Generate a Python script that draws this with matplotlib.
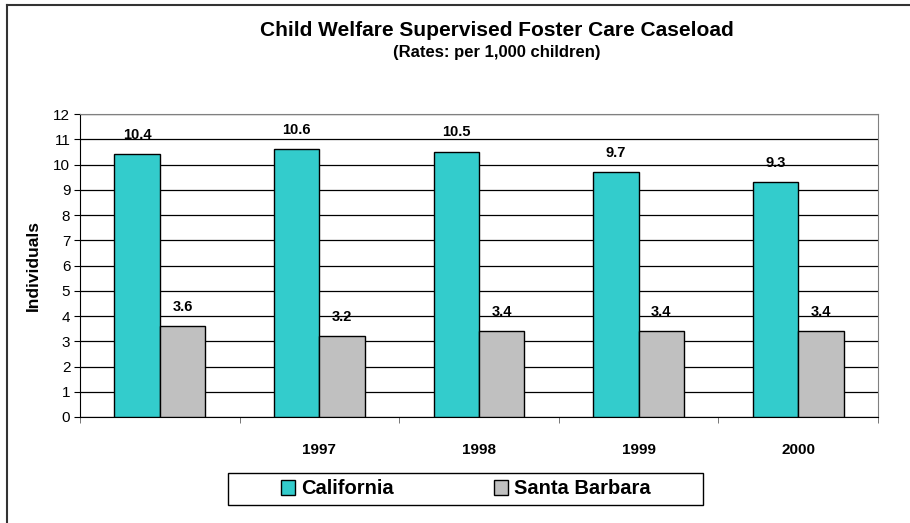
import numpy as np
import matplotlib
matplotlib.use("Agg")
import matplotlib.pyplot as plt
from matplotlib.patches import Rectangle, Patch
from matplotlib.lines import Line2D

plt.rcParams['font.family'] = ['Liberation Sans', 'DejaVu Sans']

# -------------------------------
# Data
# -------------------------------
categories = ["", "1997", "1998", "1999", "2000"]
california = [10.4, 10.6, 10.5, 9.7, 9.3]
santa_barbara = [3.6, 3.2, 3.4, 3.4, 3.4]

teal = "#33CCCC"
grey = "#C0C0C0"

# -------------------------------
# Figure / axes
# -------------------------------
W, H = 910, 523
fig = plt.figure(figsize=(W / 100, H / 100), dpi=100)
ax = fig.add_axes([80 / W, 1 - 417 / H, (878 - 80) / W, (417 - 114) / H])

x = np.arange(len(categories))
bw = 0.285
b1 = ax.bar(x - bw / 2, california, bw, color=teal, edgecolor="black", linewidth=1, zorder=3)
b2 = ax.bar(x + bw / 2, santa_barbara, bw, color=grey, edgecolor="black", linewidth=1, zorder=3)

ax.bar_label(b1, labels=[f"{v:.1f}" for v in california], padding=9,
             fontsize=10.5, fontweight="bold")
ax.bar_label(b2, labels=[f"{v:.1f}" for v in santa_barbara], padding=9,
             fontsize=10.5, fontweight="bold")

ax.set_xlim(-0.5, len(categories) - 0.5)
ax.set_ylim(0, 12)
ax.set_yticks(range(0, 13))
ax.yaxis.grid(True, color="black", linewidth=0.9, zorder=0)
ax.set_axisbelow(True)

ax.set_xticks(x)
ax.set_xticklabels(categories, fontsize=11, fontweight="bold")
ax.set_xticks(np.arange(-0.5, len(categories)), minor=True)
ax.tick_params(axis="x", which="major", length=0, pad=19)
ax.tick_params(axis="x", which="minor", length=4, color="#606060", direction="out")
ax.tick_params(axis="y", length=4, labelsize=11, direction="out", pad=3)

for s in ["top", "right"]:
    ax.spines[s].set_color("#808080")
for s in ["left", "bottom"]:
    ax.spines[s].set_color("black")

ax.set_ylabel("Individuals", fontsize=12.5, fontweight="bold", labelpad=9)

# -------------------------------
# Titles
# -------------------------------
fig.text(497 / W, 1 - 31 / H, "Child Welfare Supervised Foster Care Caseload",
         ha="center", va="center", fontsize=15, fontweight="bold")
fig.text(497 / W, 1 - 53 / H, "(Rates: per 1,000 children)",
         ha="center", va="center", fontsize=12, fontweight="bold")

# -------------------------------
# Legend
# -------------------------------
handles = [Patch(facecolor=teal, edgecolor="black"),
           Patch(facecolor=grey, edgecolor="black")]
fig.legend(handles, ["California", "Santa Barbara"], loc="center",
           bbox_to_anchor=(466 / W, 1 - 489 / H), ncol=2, frameon=False,
           prop={"size": 14.5, "weight": "bold"}, handlelength=0.7, handleheight=0.7,
           handletextpad=0.3, columnspacing=5.0)
fig.patches.append(Rectangle((228 / W, 1 - 505 / H), (703 - 228) / W, 32 / H,
                             transform=fig.transFigure, fill=False,
                             edgecolor="black", linewidth=1))

# outer border (only top and left edges show in the crop)
fig.add_artist(Line2D([7 / W, 7 / W], [0, 1 - 5 / H], transform=fig.transFigure,
                      color="#333333", linewidth=1.5))
fig.add_artist(Line2D([7 / W, 1], [1 - 5 / H, 1 - 5 / H], transform=fig.transFigure,
                      color="#333333", linewidth=1.5))

fig.savefig("out.png", dpi=100)
